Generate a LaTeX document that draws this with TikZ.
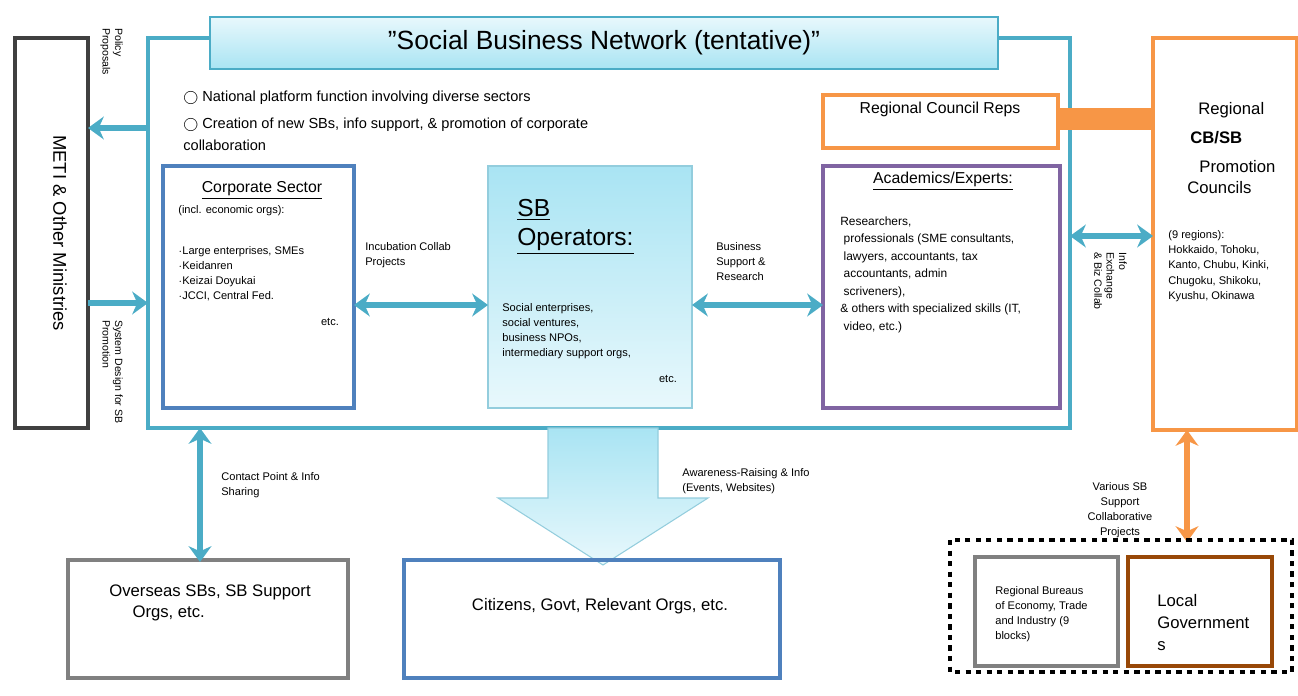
\documentclass[tikz,border=0pt]{standalone}
\usepackage{fontspec}
\setmainfont{Liberation Sans}
\usetikzlibrary{arrows.meta, positioning}
\definecolor{netcyan}{HTML}{4BACC6}
\definecolor{corpblue}{HTML}{4F81BD}
\definecolor{acadpurple}{HTML}{8064A2}
\definecolor{regorange}{HTML}{F79646}
\definecolor{localbrown}{HTML}{984807}
\definecolor{paleblue}{HTML}{E8F8FC}
\definecolor{skyblue}{HTML}{A9E4F3}
\tikzset{
  box/.style={draw, line width=2pt},
  txt/.style={font=\fontsize{7}{9}\selectfont, align=left, inner sep=0pt},
  biarr/.style={{Stealth[length=9pt,width=13pt]}-{Stealth[length=9pt,width=13pt]}, netcyan, line width=3.5pt},
  onearr/.style={-{Stealth[length=9pt,width=13pt]}, netcyan, line width=3.5pt}
}
\begin{document}
\begin{tikzpicture}[x=0.02cm, y=-0.02cm]
  \useasboundingbox (0,0) rectangle (1298,696);
  % network frame and title
  \draw[box, netcyan] (148,38) rectangle (1070,428);
  \node[draw=netcyan, line width=0.8pt, top color=paleblue, bottom color=skyblue,
        minimum width=788*0.02cm, minimum height=52*0.02cm,
        font=\fontsize{15}{17}\selectfont] (title) at (604,43) {''Social Business Network (tentative)''};
  \node[txt, anchor=west, font=\fontsize{8.3}{10}\selectfont] (pt1) at (183,98) {$\bigcirc$ National platform function involving diverse sectors};
  \node[txt, anchor=north west, font=\fontsize{8.3}{12}\selectfont] (pt2) at (183,118) {$\bigcirc$ Creation of new SBs, info support, \& promotion of corporate\\collaboration};
  % ministries
  \draw[box, black!75] (15,38) rectangle (88,428);
  \node[rotate=-90, font=\fontsize{10.5}{12}\selectfont] (meti) at (60,233) {METI \& Other Ministries};
  \coordinate (polA) at (148,128);
  \coordinate (polB) at (88,128);
  \coordinate (sysA) at (88,303);
  \coordinate (sysB) at (148,303);
  \draw[onearr] (polA) -- (polB);
  \draw[onearr] (sysA) -- (sysB);
  \node[txt, rotate=-90, font=\fontsize{6}{7}\selectfont, anchor=north west] (pol) at (123,28) {Policy\\Proposals};
  \node[txt, rotate=-90, font=\fontsize{6}{7}\selectfont, anchor=north west] (sys) at (123,320) {System Design for SB\\Promotion};
  % corporate sector
  \draw[box, corpblue] (163,166) rectangle (354,408);
  \node[font=\fontsize{9}{10}\selectfont] (corp) at (262,190) {\underline{Corporate Sector}};
  \node[txt, anchor=north west, font=\fontsize{6.3}{7}\selectfont] (corpsub) at (178,205) {(incl. economic orgs):};
  \node[txt, anchor=north west, font=\fontsize{6.3}{8.6}\selectfont] (corplist) at (178,246) {$\cdot$Large enterprises, SMEs\\$\cdot$Keidanren\\$\cdot$Keizai Doyukai\\$\cdot$JCCI, Central Fed.};
  \node[txt, font=\fontsize{6.3}{7}\selectfont] (corpetc) at (330,322) {etc.};
  % SB operators
  \node[draw=netcyan!60, line width=0.6pt, top color=skyblue, bottom color=paleblue,
        minimum width=204*0.02cm, minimum height=242*0.02cm] (sb) at (590,287) {};
  \node[txt, anchor=north west, font=\fontsize{14}{16.5}\selectfont] (sbt) at (517,199) {\underline{SB}\\\underline{Operators:}};
  \node[txt, anchor=north west, font=\fontsize{6.3}{8.6}\selectfont] (sblist) at (502,303) {Social enterprises,\\social ventures,\\business NPOs,\\intermediary support orgs,};
  \node[txt, font=\fontsize{6.3}{7}\selectfont] (sbetc) at (668,379) {etc.};
  % academics
  \draw[box, acadpurple] (823,166) rectangle (1060,408);
  \node[font=\fontsize{9}{10}\selectfont] (acad) at (943,181) {\underline{Academics/Experts:}};
  \node[txt, anchor=north west, font=\fontsize{6.8}{10}\selectfont] (acadlist) at (840,216) {Researchers,\\\ professionals (SME consultants,\\\ lawyers, accountants, tax\\\ accountants, admin\\\ scriveners),\\\& others with specialized skills (IT,\\\ video, etc.)};
  % regional councils
  \draw[box, regorange] (823,95) rectangle (1058,148);
  \node[font=\fontsize{9}{10}\selectfont] (reps) at (940,109) {Regional Council Reps};
  \fill[regorange] (1058,108) rectangle (1153,130);
  \draw[box, regorange] (1153,38) rectangle (1297,430);
  \node[txt, anchor=north west, font=\fontsize{9.5}{12}\selectfont] (regt) at (1198,102) {Regional};
  \node[txt, anchor=north west, font=\fontsize{9.5}{12}\bfseries] (regcb) at (1190,131) {CB/SB};
  \node[txt, anchor=north west, font=\fontsize{9.5}{12}\selectfont] (regp) at (1187,160) {\ \ \,Promotion\\Councils};
  \node[txt, anchor=north west, font=\fontsize{6.3}{8.7}\selectfont] (reglist) at (1168,230) {(9 regions):\\Hokkaido, Tohoku,\\Kanto, Chubu, Kinki,\\Chugoku, Shikoku,\\Kyushu, Okinawa};
  % links inside the network
  \draw[biarr] (354,305) -- (488,305);
  \draw[biarr] (692,305) -- (823,305);
  \draw[biarr] (1070,236) -- (1153,236);
  \node[txt, anchor=north west, font=\fontsize{6.3}{8.6}\selectfont] (incub) at (365,242) {Incubation Collab\\Projects};
  \node[txt, anchor=north west, font=\fontsize{6.3}{8.6}\selectfont] (biz) at (716,242) {Business\\Support \&\\Research};
  \node[txt, rotate=-90, anchor=north west, font=\fontsize{6}{7}\selectfont] (info) at (1127,252) {Info\\Exchange\\\& Biz Collab};
  % outward
  \draw[draw=netcyan!60, line width=0.6pt, top color=skyblue, bottom color=paleblue]
    (548,428) -- (658,428) -- (658,498) -- (708,498) -- (603,565) -- (498,498) -- (548,498) -- cycle;
  \node[txt, anchor=north west, font=\fontsize{6.3}{8.6}\selectfont] (aware) at (682,468) {Awareness-Raising \& Info\\(Events, Websites)};
  \draw[box, black!50] (68,560) rectangle (348,678);
  \node[font=\fontsize{9.5}{12}\selectfont, align=left] (overseas) at (210,603) {Overseas SBs, SB Support\\\ \ \ \ \ Orgs, etc.};
  \draw[box, corpblue] (404,560) rectangle (780,678);
  \node[font=\fontsize{9.5}{11}\selectfont] (citizens) at (600,606) {Citizens, Govt, Relevant Orgs, etc.};
  \coordinate (ctA) at (200,428);
  \coordinate (ctB) at (200,562);
  \draw[biarr] (ctA) -- (ctB);
  \node[txt, anchor=north west, font=\fontsize{6.3}{8.6}\selectfont] (contact) at (221,472) {Contact Point \& Info\\Sharing};
  % local side
  \coordinate (orA) at (1187,430);
  \coordinate (orB) at (1187,542);
  \draw[{Stealth[length=9pt,width=13pt]}-{Stealth[length=9pt,width=13pt]}, regorange, line width=3.5pt] (orA) -- (orB);
  \node[txt, align=center, font=\fontsize{6.3}{8.6}\selectfont] (various) at (1120,510) {Various SB\\Support\\Collaborative\\Projects};
  \draw[black, line width=2pt, dashed] (950,540) rectangle (1292,672);
  \draw[box, black!50] (975,557) rectangle (1118,666);
  \node[txt, anchor=north west, font=\fontsize{6.3}{8.6}\selectfont] (bureau) at (995,586) {Regional Bureaus\\of Economy, Trade\\and Industry (9\\blocks)};
  \draw[box, localbrown] (1128,557) rectangle (1272,666);
  \node[txt, anchor=north west, font=\fontsize{9.5}{12.5}\selectfont] (local) at (1157,594) {Local\\Governmen\rlap{t}\\s};
\end{tikzpicture}
\end{document}
